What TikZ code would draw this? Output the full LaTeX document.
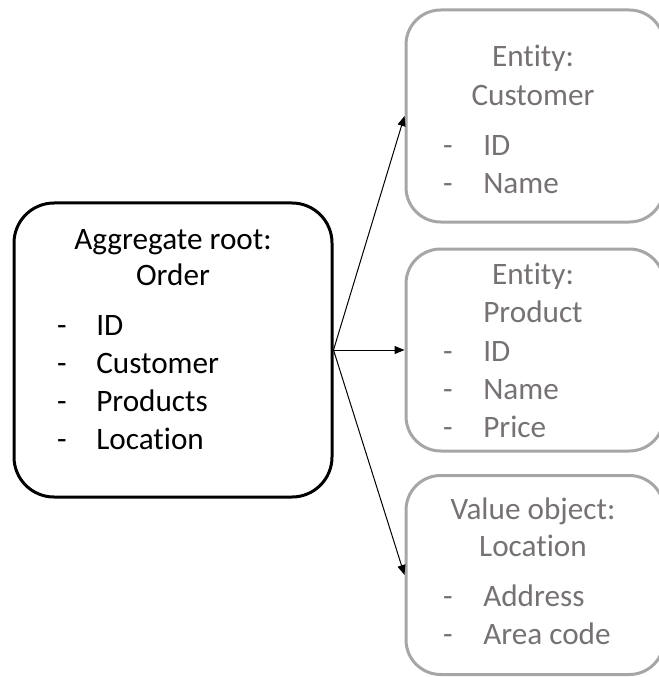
\documentclass[tikz,border=0pt]{standalone}
\usepackage{fontspec}
\setmainfont{Carlito}[Ligatures=NoCommon]
\usetikzlibrary{arrows.meta}
\definecolor{boxgray}{RGB}{166,166,166}
\definecolor{textgray}{RGB}{118,114,114}
\begin{document}
\begin{tikzpicture}[x=0.75pt,y=-0.75pt,
  rootbox/.style={draw=black,line width=2.25pt,rounded corners=30pt,inner sep=0pt},
  partbox/.style={draw=boxgray,line width=2.25pt,rounded corners=26pt,inner sep=0pt},
  txt/.style={font=\fontsize{23.4}{28}\selectfont,inner sep=0pt,anchor=mid},
  item/.style={txt,anchor=mid west},
  gtxt/.style={txt,text=textgray},
  gitem/.style={item,text=textgray},
  link/.style={line width=0.75pt,-{Triangle[length=7.5pt,width=6pt]}}]
\useasboundingbox (0,0) rectangle (659,677);

% aggregate root
\node[rootbox,minimum width=238.5pt,minimum height=220.5pt] (root) at (173,350) {};
\node[txt] (rt1) at (173,246) {Aggregate root:};
\node[txt] (rt2) at (173,282) {Order};
\foreach \y/\t [count=\i] in {332/ID,370/Customer,408/Products,446/Location}{
  \node[txt] (rd\i) at (62,\y) {-};
  \node[item] (ri\i) at (96,\y) {\t};
}

% entity: customer
\node[partbox,minimum width=193.5pt,minimum height=159pt] (cust) at (535,116) {};
\node[gtxt] (ct1) at (533,63) {Entity:};
\node[gtxt] (ct2) at (533,102) {Customer};
\foreach \y/\t [count=\i] in {152/ID,190/Name}{
  \node[gtxt] (cd\i) at (448,\y) {-};
  \node[gitem] (ci\i) at (483,\y) {\t};
}

% entity: product
\node[partbox,minimum width=193.5pt,minimum height=151.5pt] (prod) at (535,350) {};
\node[gtxt] (pt1) at (533,281) {Entity:};
\node[gtxt] (pt2) at (533,319) {Product};
\foreach \y/\t [count=\i] in {358/ID,396/Name,434/Price}{
  \node[gtxt] (pd\i) at (448,\y) {-};
  \node[gitem] (pi\i) at (483,\y) {\t};
}

% value object: location
\node[partbox,minimum width=193.5pt,minimum height=149.25pt] (loc) at (535,575) {};
\node[gtxt] (lt1) at (533,516) {Value object:};
\node[gtxt] (lt2) at (533,553) {Location};
\foreach \y/\t [count=\i] in {603/Address,641/Area code}{
  \node[gtxt] (ld\i) at (448,\y) {-};
  \node[gitem] (li\i) at (483,\y) {\t};
}

% connectors
\draw[link] (root.east) -- (cust.west);
\draw[link] (root.east) -- (prod.west);
\draw[link] (root.east) -- (loc.west);
\end{tikzpicture}
\end{document}
